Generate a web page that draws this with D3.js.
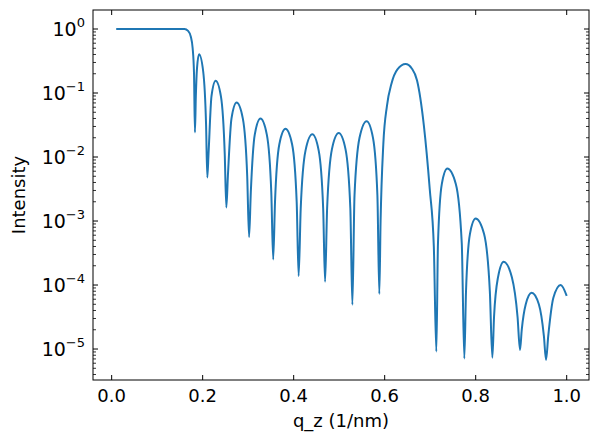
<!DOCTYPE html>
<html><head><meta charset="utf-8">
<script src="https://cdn.jsdelivr.net/npm/d3@7"></script>
<style>body{margin:0;background:#fff}text{font-family:"DejaVu Sans",sans-serif}</style>
</head><body><svg id="c" width="598" height="441"></svg>
<script>
const qz = [0.01,0.10,0.160,0.168,0.174,0.178,0.181,0.183,0.1850,0.1875,0.192,0.2011,0.2075,0.2102,0.2129,0.2194,0.2285,0.2403,0.2485,0.252,0.2554,0.2633,0.2746,0.2883,0.2979,0.302,0.3058,0.3145,0.327,0.341,0.3508,0.355,0.359,0.3685,0.382,0.3965,0.4066,0.4109,0.4155,0.426,0.441,0.455,0.4648,0.469,0.4735,0.484,0.499,0.514,0.5245,0.529,0.5337,0.5447,0.5603,0.5743,0.584,0.5882,0.591,0.597,0.605,0.615,0.628,0.646,0.660,0.671,0.686,0.699,0.708,0.7135,0.7171,0.7256,0.7376,0.7563,0.7694,0.775,0.7787,0.7874,0.7999,0.8183,0.8311,0.8366,0.8403,0.849,0.8615,0.8795,0.892,0.8974,0.9012,0.910,0.923,0.9388,0.9499,0.9546,0.9594,0.9707,0.9868,1.0];
const logIntensity = [0,0,0,-0.03,-0.12,-0.3,-0.7,-1.615,-1.05,-0.62,-0.396,-0.66,-1.5,-2.32,-1.95,-1.05,-0.81,-1.06,-1.95,-2.79,-2.3,-1.4,-1.15,-1.4,-2.3,-3.25,-2.55,-1.65,-1.40,-1.65,-2.55,-3.60,-2.7,-1.8,-1.56,-1.8,-2.7,-3.86,-2.8,-1.9,-1.646,-1.9,-2.8,-3.95,-2.8,-1.88,-1.625,-1.88,-2.8,-4.31,-2.6,-1.7,-1.44,-1.7,-2.6,-4.14,-3.0,-1.8,-1.2,-0.85,-0.63,-0.547,-0.62,-0.8,-1.5,-2.5,-3.4,-5.04,-3.35,-2.42,-2.18,-2.42,-3.35,-5.15,-4.1,-3.2,-2.96,-3.2,-4.1,-5.135,-4.5,-3.88,-3.635,-3.88,-4.5,-5.015,-4.7,-4.3,-4.12,-4.3,-4.8,-5.17,-4.8,-4.2,-4.0,-4.17];
const xTicks = [0,0.2,0.4,0.6,0.8,1.0];
const yExps = [0,-1,-2,-3,-4,-5];

const svg = d3.select("#c");
const L=93,R=589,T=10,B=380;
const x = d3.scaleLinear().domain([-0.041,1.049]).range([L,R]);
const y = d3.scaleLog().domain([Math.pow(10,-5.484),Math.pow(10,0.297)]).range([B,T]);
const data = qz.map((q,i)=>[q,Math.pow(10,logIntensity[i])]);

svg.append("path").datum(data).attr("fill","none").attr("stroke","#1f77b4").attr("stroke-width",2)
  .attr("d",d3.line().x(d=>x(d[0])).y(d=>y(d[1])).curve(d3.curveMonotoneX));

const g = svg.append("g").attr("stroke","#000");
g.append("rect").attr("x",L).attr("y",T).attr("width",R-L).attr("height",B-T).attr("fill","none").attr("stroke-width",1);
xTicks.forEach(t=>{
  g.append("line").attr("x1",x(t)).attr("x2",x(t)).attr("y1",B).attr("y2",B-5);
  g.append("line").attr("x1",x(t)).attr("x2",x(t)).attr("y1",T).attr("y2",T+5);
  svg.append("text").attr("x",x(t)).attr("y",B+22).attr("text-anchor","middle").attr("font-size",18).text(t.toFixed(1));
});
for(let e=-6;e<=0;e++){
  for(let m=1;m<10;m++){
    const v=m*Math.pow(10,e); const yy=y(v);
    if(yy<T||yy>B) continue;
    const len = m===1?5:3;
    g.append("line").attr("x1",L).attr("x2",L+len).attr("y1",yy).attr("y2",yy).attr("stroke-width",m===1?1:0.8);
    g.append("line").attr("x1",R).attr("x2",R-len).attr("y1",yy).attr("y2",yy).attr("stroke-width",m===1?1:0.8);
  }
}
yExps.forEach(e=>{
  const t=svg.append("text").attr("x",L-8).attr("y",y(Math.pow(10,e))+7).attr("text-anchor","end").attr("font-size",19);
  t.append("tspan").text("10");
  t.append("tspan").attr("dy",-9).attr("font-size",13).text(e===0?"0":"\u2212"+(-e));
});
svg.append("text").attr("x",(L+R)/2).attr("y",427).attr("text-anchor","middle").attr("font-size",18).text("q_z (1/nm)");
svg.append("text").attr("transform",`translate(25,${(T+B)/2}) rotate(-90)`).attr("text-anchor","middle").attr("font-size",18).text("Intensity");
</script></body></html>
